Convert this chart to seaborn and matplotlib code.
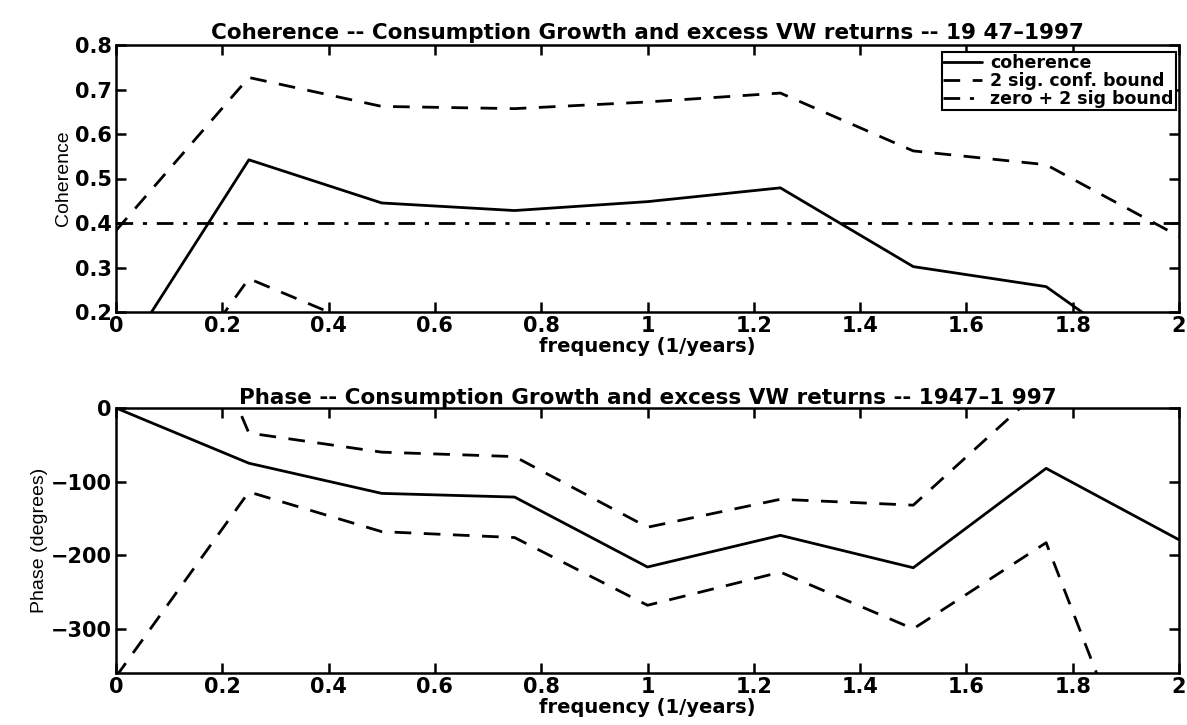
import numpy as np
import pandas as pd
import matplotlib
matplotlib.use("Agg")
import matplotlib.pyplot as plt
import seaborn as sns

# ---- data ----
freq = [0, 0.25, 0.5, 0.75, 1.0, 1.25, 1.5, 1.75, 2.0]
coherence = [0.075, 0.542, 0.445, 0.428, 0.448, 0.479, 0.302, 0.257, 0.045]
coh_upper = [0.383, 0.727, 0.662, 0.657, 0.672, 0.692, 0.562, 0.531, 0.37]
coh_lower = [-0.14, 0.275, 0.15, 0.13, 0.15, 0.17, -0.05, -0.10, -0.30]
zero_bound = [0.40, 0.40, 0.40, 0.40, 0.40, 0.40, 0.40, 0.40, 0.40]

phase = [0, -75, -116, -121, -216, -173, -217, -82, -179]
phase_upper = [390, -34, -60, -66, -162, -124, -132, 32, 60]
phase_lower = [-365, -114, -168, -176, -268, -223, -300, -183, -650]

xticks = [0, 0.2, 0.4, 0.6, 0.8, 1, 1.2, 1.4, 1.6, 1.8, 2]
xticklabels = ["0", "0.2", "0.4", "0.6", "0.8", "1", "1.2", "1.4", "1.6", "1.8", "2"]
coh_yticks = [0.2, 0.3, 0.4, 0.5, 0.6, 0.7, 0.8]
coh_yticklabels = ["0.2", "0.3", "0.4", "0.5", "0.6", "0.7", "0.8"]
ph_yticks = [-300, -200, -100, 0]
ph_yticklabels = ["\u2212300", "\u2212200", "\u2212100", "0"]

title_top = "Coherence -- Consumption Growth and excess VW returns -- 19 47\u20131997"
title_bot = "Phase -- Consumption Growth and excess VW returns -- 1947\u20131 997"
xlab = "frequency (1/years)"
legend_labels = ["coherence", "2 sig. conf. bound", "zero + 2 sig bound"]

# ---- style ----
sns.set_style("ticks")
plt.rcParams["font.family"] = ["DejaVu Sans"]
plt.rcParams["font.weight"] = "bold"
plt.rcParams["axes.linewidth"] = 1.8
for k in ["text.color", "axes.labelcolor", "xtick.color", "ytick.color", "axes.edgecolor"]:
    plt.rcParams[k] = "black"

fig = plt.figure(figsize=(11.87, 7.25), dpi=100)
ax1 = fig.add_axes([116/1187, 1-312/725, (1179-116)/1187, (312-45)/725])
ax2 = fig.add_axes([116/1187, 1-673/725, (1179-116)/1187, (673-408)/725])

df = pd.DataFrame({"freq": freq, "coh": coherence, "up": coh_upper, "lo": coh_lower,
                   "zero": zero_bound, "ph": phase, "phu": phase_upper, "phl": phase_lower})

lw = 2.0
dash = (0, (6, 4.5))
dashdot = (0, (6, 3.5, 1.5, 3.5))

sns.lineplot(data=df, x="freq", y="coh", ax=ax1, color="black", lw=lw, label=legend_labels[0])
sns.lineplot(data=df, x="freq", y="up", ax=ax1, color="black", lw=lw, linestyle=dash, label=legend_labels[1])
sns.lineplot(data=df, x="freq", y="zero", ax=ax1, color="black", lw=lw, linestyle=dashdot, label=legend_labels[2])
sns.lineplot(data=df, x="freq", y="lo", ax=ax1, color="black", lw=lw, linestyle=dash)

sns.lineplot(data=df, x="freq", y="ph", ax=ax2, color="black", lw=lw)
sns.lineplot(data=df, x="freq", y="phu", ax=ax2, color="black", lw=lw, linestyle=dash)
sns.lineplot(data=df, x="freq", y="phl", ax=ax2, color="black", lw=lw, linestyle=dash)

for ax in (ax1, ax2):
    ax.set_xlim(0, 2)
    ax.set_xticks(xticks)
    ax.set_xticklabels(xticklabels, fontsize=15, fontweight="bold")
    ax.tick_params(direction="in", length=7, width=1.8, top=True, right=True, pad=3)
    ax.set_xlabel(xlab, fontsize=14, fontweight="bold", labelpad=0.5)
    for s in ax.spines.values():
        s.set_visible(True)
        s.set_color("black")

ax1.set_ylim(0.2, 0.8)
ax1.set_yticks(coh_yticks)
ax1.set_yticklabels(coh_yticklabels, fontsize=15, fontweight="bold")
ax1.set_ylabel("Coherence", fontsize=14, fontweight="normal",
               family=["Liberation Sans Narrow", "Liberation Sans"], labelpad=2)
ax1.set_title(title_top, fontsize=15.5, fontweight="bold", pad=4)

ax2.set_ylim(-360, 0)
ax2.set_yticks(ph_yticks)
ax2.set_yticklabels(ph_yticklabels, fontsize=15, fontweight="bold")
ax2.set_ylabel("Phase (degrees)", fontsize=14, fontweight="normal",
               family=["Liberation Sans Narrow", "Liberation Sans"], labelpad=2)
ax2.set_title(title_bot, fontsize=15.5, fontweight="bold", pad=3)

leg = ax1.legend(loc="upper right", bbox_to_anchor=(1.0, 0.985), fontsize=12.5,
                 labelspacing=0.0, borderpad=0.1, handlelength=2.2, handletextpad=0.5,
                 fancybox=False, framealpha=1, edgecolor="black", borderaxespad=0.2)
leg.get_frame().set_linewidth(1.5)
for t in leg.get_texts():
    t.set_fontweight("bold")
    t.set_color("black")

fig.savefig("out.png", dpi=100)
